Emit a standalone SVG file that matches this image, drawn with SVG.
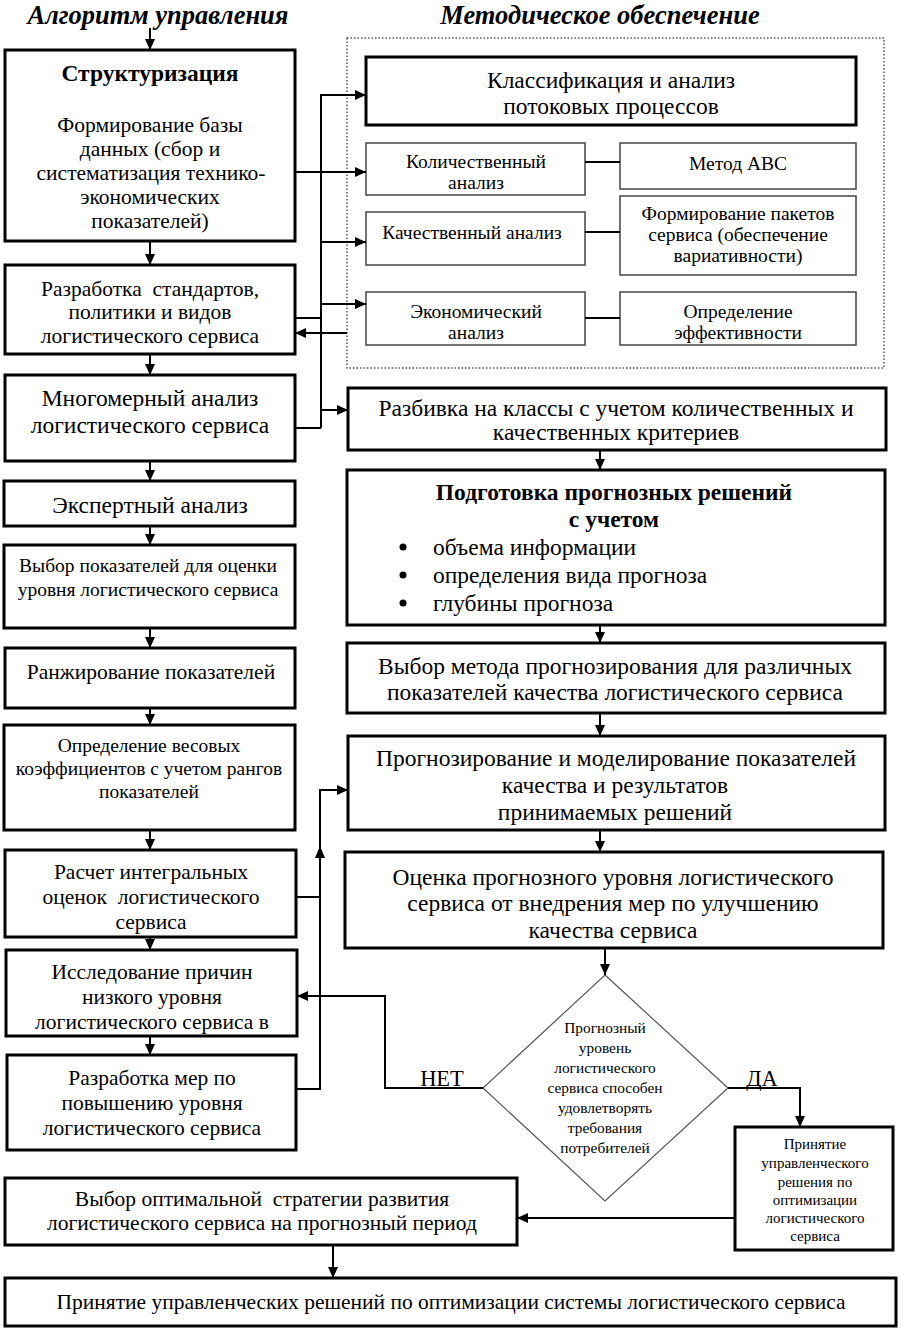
<svg xmlns="http://www.w3.org/2000/svg" width="901" height="1330" viewBox="0 0 901 1330">
<defs>
<marker id="ah" markerUnits="userSpaceOnUse" markerWidth="11" markerHeight="10" refX="11" refY="5" orient="auto">
<path d="M0,0 L11,5 L0,10 z" fill="#000"/>
</marker>
</defs>
<style>
text{font-family:"Liberation Serif","Times New Roman",serif;fill:#000;text-anchor:middle}
.box{fill:#fff;stroke:#000;stroke-width:3}
.thin{fill:#fff;stroke:#444;stroke-width:1.5}
.ln{fill:none;stroke:#000;stroke-width:2}
.ar{fill:none;stroke:#000;stroke-width:2;marker-end:url(#ah)}
.f23{font-size:23.5px}
.f21{font-size:21.5px}
.f19{font-size:19.5px}
.dm{font-size:15.4px}
.pr{font-size:15px}
.b{font-weight:bold}
.ttl{font-size:26.5px;font-style:italic;font-weight:bold}
.st{text-anchor:start}
</style>
<rect width="901" height="1330" fill="#fff"/>
<text class="ttl" x="158" y="24">Алгоритм управления</text>
<text class="ttl" x="600" y="24">Методическое обеспечение</text>

<g id="b1"><rect class="box" x="5" y="50" width="290" height="191"/>
<text class="f23 b" x="150" y="81">Структуризация</text>
<text class="f21" x="150" y="131.5">Формирование базы</text>
<text class="f21" x="150" y="155.5">данных (сбор и</text>
<text class="f21" x="151" y="179.5">систематизация технико-</text>
<text class="f21" x="150" y="203.5">экономических</text>
<text class="f21" x="150" y="227.5">показателей)</text></g>
<g id="b2"><rect class="box" x="5" y="265" width="290" height="89"/>
<text class="f21" x="150" y="295.5">Разработка&#160; стандартов,</text>
<text class="f21" x="150" y="318.5">политики и видов</text>
<text class="f21" x="150" y="342.5">логистического сервиса</text></g>
<g id="b3"><rect class="box" x="5" y="375" width="290" height="86"/>
<text class="f23" x="150" y="406">Многомерный анализ</text>
<text class="f23" x="150" y="433">логистического сервиса</text></g>
<g id="b4"><rect class="box" x="4" y="481" width="291" height="45"/>
<text class="f23" x="150" y="513">Экспертный анализ</text></g>
<g id="b5"><rect class="box" x="4" y="545" width="291" height="83"/>
<text class="f19" x="148" y="572">Выбор показателей для оценки</text>
<text class="f19" x="148" y="596">уровня логистического сервиса</text></g>
<g id="b6"><rect class="box" x="5" y="648" width="290" height="60"/>
<text class="f21" x="151" y="678.5">Ранжирование показателей</text></g>
<g id="b7"><rect class="box" x="4" y="725" width="291" height="105"/>
<text class="f19" x="149" y="752">Определение весовых</text>
<text class="f19" x="149" y="775">коэффициентов с учетом рангов</text>
<text class="f19" x="149" y="798">показателей</text></g>
<g id="b8"><rect class="box" x="5" y="850" width="291" height="87"/>
<text class="f21" x="151" y="878.5">Расчет интегральных</text>
<text class="f21" x="151" y="903.5">оценок&#160; логистического</text>
<text class="f21" x="151" y="928.5">сервиса</text></g>
<g id="b9"><rect class="box" x="6" y="950" width="291" height="86"/>
<text class="f21" x="152" y="978.5">Исследование причин</text>
<text class="f21" x="152" y="1003.5">низкого уровня</text>
<text class="f21" x="152" y="1028.5">логистического сервиса в</text></g>
<g id="b10"><rect class="box" x="7" y="1055" width="289" height="95"/>
<text class="f21" x="152" y="1084.5">Разработка мер по</text>
<text class="f21" x="152" y="1109.5">повышению уровня</text>
<text class="f21" x="152" y="1134.5">логистического сервиса</text></g>
<g id="b11"><rect class="box" x="5" y="1178" width="512" height="67"/>
<text class="f21" x="262" y="1205.5">Выбор оптимальной&#160; стратегии развития</text>
<text class="f21" x="262" y="1229.5">логистического сервиса на прогнозный период</text></g>
<g id="b12"><rect class="box" x="5" y="1278" width="891" height="48"/>
<text class="f21" x="451" y="1308.5">Принятие управленческих решений по оптимизации системы логистического сервиса</text></g>

<g id="method"><rect x="347" y="38" width="537" height="330" fill="none" stroke="#555" stroke-width="1.5" stroke-dasharray="1.5 2"/></g>
<g id="m1"><rect class="box" x="366" y="57" width="490" height="68"/>
<text class="f23" x="611" y="88">Классификация и анализ</text>
<text class="f23" x="611" y="114">потоковых процессов</text></g>
<g id="m2"><rect class="thin" x="366" y="143" width="219" height="52"/>
<text class="f19" x="476" y="168">Количественный</text>
<text class="f19" x="476" y="189">анализ</text></g>
<g id="m3"><rect class="thin" x="620" y="143" width="236" height="46"/>
<text class="f19" x="738" y="170">Метод АВС</text></g>
<g id="m4"><rect class="thin" x="366" y="212" width="219" height="53"/>
<text class="f19" x="472" y="239">Качественный анализ</text></g>
<g id="m5"><rect class="thin" x="620" y="196" width="236" height="79"/>
<text class="f19" x="738" y="220">Формирование пакетов</text>
<text class="f19" x="738" y="241">сервиса (обеспечение</text>
<text class="f19" x="738" y="262">вариативности)</text></g>
<g id="m6"><rect class="thin" x="366" y="292" width="219" height="53"/>
<text class="f19" x="476" y="318">Экономический</text>
<text class="f19" x="476" y="339">анализ</text></g>
<g id="m7"><rect class="thin" x="620" y="292" width="236" height="53"/>
<text class="f19" x="738" y="318">Определение</text>
<text class="f19" x="738" y="339">эффективности</text></g>

<g id="r1"><rect class="box" x="348" y="388" width="538" height="62"/>
<text class="f23" x="616" y="416">Разбивка на классы с учетом количественных и</text>
<text class="f23" x="616" y="440">качественных критериев</text></g>
<g id="r2"><rect class="box" x="347" y="470" width="538" height="155"/>
<text class="f23 b" x="614" y="500">Подготовка прогнозных решений</text>
<text class="f23 b" x="614" y="527">с учетом</text>
<circle cx="403" cy="547" r="3.5"/><circle cx="403" cy="575" r="3.5"/><circle cx="403" cy="603" r="3.5"/>
<text class="f23 st" x="433" y="555">объема информации</text>
<text class="f23 st" x="433" y="583">определения вида прогноза</text>
<text class="f23 st" x="433" y="611">глубины прогноза</text></g>
<g id="r3"><rect class="box" x="347" y="643" width="538" height="70"/>
<text class="f23" x="615" y="674">Выбор метода прогнозирования для различных</text>
<text class="f23" x="615" y="700">показателей качества логистического сервиса</text></g>
<g id="r4"><rect class="box" x="348" y="736" width="537" height="94"/>
<text class="f23" x="616" y="766">Прогнозирование и моделирование показателей</text>
<text class="f23" x="615" y="793">качества и результатов</text>
<text class="f23" x="615" y="820">принимаемых решений</text></g>
<g id="r5"><rect class="box" x="345" y="852" width="538" height="96"/>
<text class="f23" x="613" y="885">Оценка прогнозного уровня логистического</text>
<text class="f23" x="613" y="911">сервиса от внедрения мер по улучшению</text>
<text class="f23" x="613" y="938">качества сервиса</text></g>
<g id="d1"><polygon points="605,975 728,1088 605,1201 483,1088" fill="#fff" stroke="#555" stroke-width="1.2"/>
<text class="dm" x="605" y="1032.5">Прогнозный</text>
<text class="dm" x="605" y="1052.5">уровень</text>
<text class="dm" x="605" y="1072.5">логистического</text>
<text class="dm" x="605" y="1092.5">сервиса способен</text>
<text class="dm" x="605" y="1112.5">удовлетворять</text>
<text class="dm" x="605" y="1132.5">требования</text>
<text class="dm" x="605" y="1152.5">потребителей</text></g>
<g id="p1"><rect class="box" x="735" y="1127" width="158" height="123"/>
<text class="pr" x="815" y="1149">Принятие</text>
<text class="pr" x="815" y="1168">управленческого</text>
<text class="pr" x="815" y="1187">решения по</text>
<text class="pr" x="815" y="1205">оптимизации</text>
<text class="pr" x="815" y="1223">логистического</text>
<text class="pr" x="815" y="1241">сервиса</text></g>

<g id="connectors">
<line class="ar" x1="150" y1="28" x2="150" y2="50"/>
<line class="ar" x1="150" y1="241" x2="150" y2="265"/>
<line class="ar" x1="150" y1="354" x2="150" y2="375"/>
<line class="ar" x1="150" y1="461" x2="150" y2="481"/>
<line class="ar" x1="150" y1="526" x2="150" y2="545"/>
<line class="ar" x1="150" y1="628" x2="150" y2="648"/>
<line class="ar" x1="150" y1="708" x2="150" y2="725"/>
<line class="ar" x1="150" y1="830" x2="150" y2="850"/>
<line class="ar" x1="150" y1="937" x2="150" y2="950"/>
<line class="ar" x1="150" y1="1036" x2="150" y2="1055"/>
<line class="ln" x1="295" y1="172" x2="321" y2="172"/>
<line class="ln" x1="321" y1="95" x2="321" y2="428"/>
<line class="ar" x1="320" y1="95" x2="366" y2="95"/>
<line class="ar" x1="320" y1="172" x2="366" y2="172"/>
<line class="ar" x1="320" y1="242" x2="366" y2="242"/>
<line class="ar" x1="320" y1="304" x2="366" y2="304"/>
<line class="ln" x1="295" y1="318" x2="321" y2="318"/>
<line class="ar" x1="347" y1="333" x2="295" y2="333"/>
<line class="ln" x1="295" y1="428" x2="321" y2="428"/>
<line class="ar" x1="320" y1="410" x2="348" y2="410"/>
<line class="ln" x1="585" y1="162" x2="620" y2="162"/>
<line class="ln" x1="585" y1="232" x2="620" y2="232"/>
<line class="ln" x1="585" y1="318" x2="620" y2="318"/>
<line class="ar" x1="600" y1="450" x2="600" y2="470"/>
<line class="ar" x1="600" y1="625" x2="600" y2="643"/>
<line class="ar" x1="600" y1="713" x2="600" y2="736"/>
<line class="ar" x1="600" y1="830" x2="600" y2="852"/>
<line class="ar" x1="605" y1="948" x2="605" y2="975"/>
<line class="ln" x1="296" y1="897" x2="321" y2="897"/>
<line class="ln" x1="296" y1="1089" x2="321" y2="1089"/>
<line class="ln" x1="320" y1="1089" x2="320" y2="790"/>
<polygon points="320,846 315,858 325,858" fill="#000"/>
<line class="ar" x1="319" y1="790" x2="348" y2="790"/>
<polyline class="ar" points="483,1088 385,1088 385,996 297,996"/>
<polyline class="ar" points="728,1088 800,1088 800,1127"/>
<line class="ar" x1="735" y1="1218" x2="517" y2="1218"/>
<line class="ar" x1="333" y1="1245" x2="333" y2="1278"/>
<text style="font-size:22.5px" x="442" y="1086">НЕТ</text>
<text style="font-size:22.5px" x="762" y="1086">ДА</text>
</g>
</svg>
